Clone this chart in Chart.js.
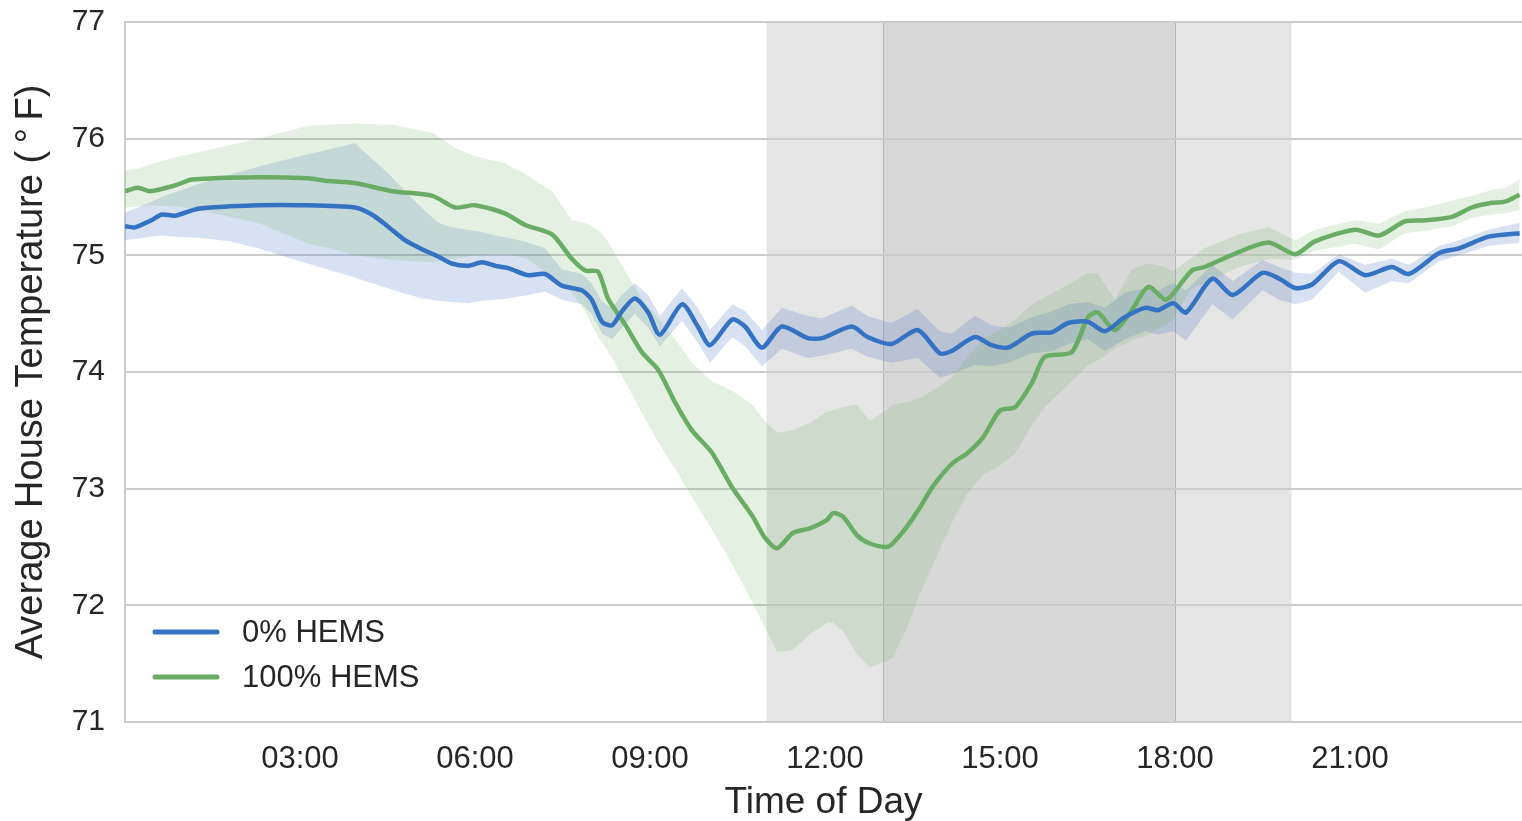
<!DOCTYPE html>
<html>
<head>
<meta charset="utf-8">
<title>Average House Temperature</title>
<script src="https://cdn.jsdelivr.net/npm/chart.js@4.4.1/dist/chart.umd.min.js"></script>
<style>
  html, body { margin: 0; padding: 0; background: #fff; }
  #wrap { position: relative; width: 1522px; height: 821px; }
</style>
</head>
<body>
<div id="wrap"><canvas id="tempChart"></canvas></div>
<script>
// hours of day (0-24) and temperatures (deg F)
var blueHours = [0.00, 0.17, 0.45, 0.63, 0.86, 1.25, 1.80, 2.28, 3.00, 3.94, 4.23, 4.50, 4.80, 5.10, 5.37, 5.60, 5.88,
  6.12, 6.35, 6.57, 6.91, 7.20, 7.49, 7.83, 8.00, 8.18, 8.35, 8.52, 8.74, 8.97, 9.17, 9.55, 9.82, 10.03, 10.41,
  10.63, 10.92, 11.26, 11.71, 11.95, 12.46, 12.73, 13.14, 13.59, 13.97, 14.17, 14.57, 14.86, 15.14, 15.55, 15.89,
  16.17, 16.51, 16.80, 17.14, 17.49, 17.71, 17.97, 18.19, 18.64, 18.99, 19.50, 19.79, 20.06, 20.35, 20.81, 21.26,
  21.72, 22.01, 22.53, 22.87, 23.38, 23.91];
var blueMean = [75.25, 75.24, 75.30, 75.35, 75.34, 75.40, 75.42, 75.43, 75.43, 75.41, 75.35, 75.25, 75.13, 75.05, 74.99, 74.93, 74.91,
  74.94, 74.91, 74.89, 74.83, 74.84, 74.74, 74.70, 74.62, 74.43, 74.40, 74.52, 74.63, 74.51, 74.32, 74.58, 74.39, 74.23, 74.45,
  74.39, 74.21, 74.39, 74.29, 74.29, 74.39, 74.30, 74.24, 74.36, 74.16, 74.18, 74.30, 74.23, 74.21, 74.33, 74.34,
  74.42, 74.43, 74.35, 74.47, 74.55, 74.53, 74.59, 74.51, 74.80, 74.66, 74.85, 74.80, 74.72, 74.75, 74.95, 74.83,
  74.90, 74.84, 75.02, 75.06, 75.16, 75.19];
var blueLow = [75.13, 75.14, 75.16, 75.17, 75.16, 75.15, 75.12, 75.06, 74.95, 74.81, 74.76, 74.72, 74.67, 74.63, 74.61, 74.60, 74.59,
  74.61, 74.62, 74.63, 74.66, 74.69, 74.62, 74.58, 74.50, 74.33, 74.28, 74.38, 74.50, 74.38, 74.22, 74.44, 74.25, 74.08, 74.30,
  74.22, 74.05, 74.20, 74.12, 74.14, 74.20, 74.13, 74.08, 74.12, 73.95, 73.98, 74.06, 74.05, 74.08, 74.16, 74.18,
  74.24, 74.28, 74.18, 74.28, 74.35, 74.32, 74.35, 74.27, 74.58, 74.45, 74.70, 74.62, 74.58, 74.62, 74.86, 74.68,
  74.78, 74.76, 74.95, 75.00, 75.08, 75.11];
var blueHigh = [75.37, 75.40, 75.46, 75.50, 75.54, 75.61, 75.69, 75.76, 75.85, 75.96, 75.83, 75.71, 75.55, 75.40, 75.28, 75.24, 75.22,
  75.20, 75.17, 75.15, 75.11, 75.06, 74.88, 74.84, 74.76, 74.60, 74.55, 74.66, 74.76, 74.66, 74.48, 74.72, 74.55, 74.36, 74.58,
  74.52, 74.36, 74.55, 74.48, 74.46, 74.57, 74.48, 74.42, 74.54, 74.35, 74.33, 74.48, 74.40, 74.38, 74.47, 74.52,
  74.58, 74.60, 74.55, 74.68, 74.72, 74.70, 74.76, 74.70, 74.92, 74.78, 74.96, 74.90, 74.85, 74.84, 75.01, 74.92,
  74.97, 74.92, 75.08, 75.13, 75.22, 75.28];

var greenHours = [0.00, 0.22, 0.43, 0.86, 1.15, 2.28, 3.14, 3.43, 3.94, 4.58, 5.27, 5.66, 6.00, 6.51, 6.86, 7.32, 7.66,
  7.89, 8.11, 8.28, 8.57, 8.86, 9.14, 9.43, 9.72, 10.06, 10.41, 10.75, 10.97, 11.18, 11.45, 11.74, 12.03, 12.14,
  12.31, 12.55, 12.77, 13.06, 13.16, 13.40, 13.63, 13.85, 14.19, 14.43, 14.71, 15.00, 15.26, 15.55, 15.77, 16.23,
  16.51, 16.68, 16.97, 17.26, 17.54, 17.83, 17.95, 18.29, 18.51, 19.10, 19.61, 20.06, 20.40, 21.09, 21.50, 21.94,
  22.29, 22.75, 23.09, 23.43, 23.66, 23.91];
var greenMean = [75.55, 75.58, 75.55, 75.60, 75.65, 75.67, 75.66, 75.64, 75.62, 75.55, 75.51, 75.41, 75.43, 75.36, 75.26, 75.18, 74.97,
  74.87, 74.86, 74.63, 74.41, 74.17, 74.02, 73.74, 73.50, 73.31, 73.01, 72.77, 72.58, 72.49, 72.62, 72.66, 72.73, 72.79,
  72.76, 72.60, 72.53, 72.50, 72.53, 72.67, 72.84, 73.02, 73.22, 73.30, 73.44, 73.67, 73.70, 73.91, 74.13, 74.17,
  74.47, 74.51, 74.36, 74.53, 74.73, 74.62, 74.66, 74.87, 74.90, 75.03, 75.11, 75.01, 75.12, 75.22, 75.17, 75.29,
  75.30, 75.33, 75.41, 75.45, 75.46, 75.52];
var greenLow = [75.41, 75.42, 75.43, 75.42, 75.40, 75.28, 75.10, 75.07, 75.00, 74.96, 74.94, 74.97, 75.00, 75.01, 74.98, 74.82, 74.68,
  74.52, 74.30, 74.18, 73.92, 73.65, 73.40, 73.17, 72.93, 72.65, 72.35, 72.03, 71.81, 71.60, 71.62, 71.75, 71.85, 71.85,
  71.78, 71.58, 71.47, 71.52, 71.55, 71.80, 72.10, 72.35, 72.72, 72.95, 73.12, 73.20, 73.30, 73.55, 73.70, 73.92,
  74.06, 74.10, 74.20, 74.27, 74.32, 74.40, 74.44, 74.72, 74.76, 74.90, 74.97, 74.96, 75.04, 75.10, 75.05, 75.19,
  75.21, 75.25, 75.32, 75.35, 75.36, 75.39];
var greenHigh = [75.73, 75.74, 75.78, 75.84, 75.87, 76.00, 76.11, 76.12, 76.13, 76.12, 76.05, 75.92, 75.85, 75.79, 75.70, 75.55, 75.30,
  75.28, 75.22, 75.12, 74.87, 74.63, 74.46, 74.28, 74.08, 73.92, 73.84, 73.72, 73.58, 73.48, 73.50, 73.56, 73.66, 73.67,
  73.70, 73.72, 73.58, 73.68, 73.72, 73.74, 73.78, 73.84, 73.96, 74.12, 74.28, 74.36, 74.45, 74.58, 74.64, 74.76,
  74.85, 74.84, 74.62, 74.88, 74.93, 74.90, 74.86, 74.98, 75.06, 75.18, 75.24, 75.13, 75.22, 75.30, 75.27, 75.38,
  75.41, 75.47, 75.51, 75.56, 75.58, 75.65];

var seriesNames = ["0% HEMS", "100% HEMS"];
var tickHours = [3, 6, 9, 12, 15, 18, 21];
var tickLabels = ["03:00", "06:00", "09:00", "12:00", "15:00", "18:00", "21:00"];
var peakWindow = [11, 20];
var corePeak = [13, 18];

var blueColor = "#3473c3";
var greenColor = "#69ad64";
var blueBand = "rgba(76, 120, 192, 0.22)";
var greenBand = "rgba(105, 170, 95, 0.18)";
var fam = "'Liberation Sans', Arial, sans-serif";

function points(xs, ys) {
    return xs.map(function (x, i) { return { x: x, y: ys[i] }; });
}

// grey peak-period shading, drawn under the grid and the data
var shadePlugin = {
    id: "shade",
    beforeDraw: function (chart) {
        var ctx = chart.ctx, xs = chart.scales.x, area = chart.chartArea;
        var h = area.bottom - area.top;
        var a = xs.getPixelForValue(peakWindow[0]), b = xs.getPixelForValue(peakWindow[1]);
        var c = xs.getPixelForValue(corePeak[0]), d = xs.getPixelForValue(corePeak[1]);
        ctx.save();
        ctx.fillStyle = "#e5e5e5";
        ctx.fillRect(a, area.top, b - a, h);
        ctx.fillStyle = "#d8d8d8";
        ctx.fillRect(c, area.top, d - c, h);
        ctx.strokeStyle = "#b4b4b4";
        ctx.lineWidth = 1;
        [c, d].forEach(function (px) {
            ctx.beginPath();
            ctx.moveTo(Math.round(px) + 0.5, area.top);
            ctx.lineTo(Math.round(px) + 0.5, area.bottom);
            ctx.stroke();
        });
        ctx.restore();
    }
};

// legend sits inside the plot, lower left
var legendPlugin = {
    id: "insideLegend",
    afterDatasetsDraw: function (chart) {
        var ctx = chart.ctx, area = chart.chartArea;
        var colors = [blueColor, greenColor];
        ctx.save();
        ctx.font = "31px " + fam;
        ctx.textBaseline = "middle";
        ctx.lineCap = "round";
        seriesNames.forEach(function (name, i) {
            var y = area.bottom - 90 + i * 45;
            ctx.strokeStyle = colors[i];
            ctx.lineWidth = 5;
            ctx.beginPath();
            ctx.moveTo(area.left + 30, y);
            ctx.lineTo(area.left + 92, y);
            ctx.stroke();
            ctx.fillStyle = "#262626";
            ctx.fillText(name, area.left + 117, y + 1);
        });
        ctx.restore();
    }
};

document.addEventListener("DOMContentLoaded", function () {
    var ctx = document.getElementById("tempChart");
    new Chart(ctx, {
        type: "line",
        data: {
            datasets: [{
                    label: "blue low",
                    data: points(blueHours, blueLow),
                    borderWidth: 0,
                    pointRadius: 0,
                    fill: false,
                    order: 5
                }, {
                    label: "blue high",
                    data: points(blueHours, blueHigh),
                    borderWidth: 0,
                    pointRadius: 0,
                    backgroundColor: blueBand,
                    fill: "-1",
                    order: 5
                }, {
                    label: "green low",
                    data: points(greenHours, greenLow),
                    borderWidth: 0,
                    pointRadius: 0,
                    fill: false,
                    order: 4
                }, {
                    label: "green high",
                    data: points(greenHours, greenHigh),
                    borderWidth: 0,
                    pointRadius: 0,
                    backgroundColor: greenBand,
                    fill: "-1",
                    order: 4
                }, {
                    label: seriesNames[1],
                    data: points(greenHours, greenMean),
                    borderColor: greenColor,
                    borderWidth: 4.5,
                    pointRadius: 0,
                    tension: 0.25,
                    fill: false,
                    order: 2
                }, {
                    label: seriesNames[0],
                    data: points(blueHours, blueMean),
                    borderColor: blueColor,
                    borderWidth: 4.5,
                    pointRadius: 0,
                    tension: 0.25,
                    fill: false,
                    order: 1
                }]
        },
        options: {
            responsive: true,
            maintainAspectRatio: false,
            animation: false,
            layout: { padding: { top: 22, right: 0, left: 0, bottom: 0 } },
            scales: {
                x: {
                    type: "linear",
                    min: 0,
                    max: 23.95,
                    afterBuildTicks: function (axis) {
                        axis.ticks = tickHours.map(function (v) { return { value: v }; });
                    },
                    afterFit: function (axis) { axis.height = 99; },
                    grid: { display: false },
                    border: { display: false },
                    ticks: {
                        color: "#262626",
                        font: { size: 31, family: fam },
                        padding: 11,
                        autoSkip: false,
                        maxRotation: 0,
                        callback: function (value) { return tickLabels[tickHours.indexOf(value)]; }
                    },
                    title: {
                        display: true,
                        text: "Time of Day",
                        color: "#262626",
                        font: { size: 37, family: fam, lineHeight: 1.0 },
                        padding: { top: 4, bottom: 0 }
                    }
                },
                y: {
                    min: 71,
                    max: 77,
                    afterFit: function (axis) {
                        axis.width = 125;
                        axis.paddingTop = 0;
                        axis.paddingBottom = 0;
                    },
                    ticks: {
                        stepSize: 1,
                        color: "#262626",
                        font: { size: 30, family: fam },
                        padding: 20
                    },
                    grid: { color: "#cccccc", lineWidth: 2, drawTicks: false },
                    border: { display: true, color: "#cccccc", width: 2 },
                    title: {
                        display: true,
                        text: "Average House Temperature (\u2009\u00b0\u2009F)",
                        color: "#262626",
                        font: { size: 38, family: fam, lineHeight: 1.0 },
                        padding: { top: 13, bottom: 0 }
                    }
                }
            },
            plugins: {
                legend: { display: false },
                tooltip: { enabled: false }
            }
        },
        plugins: [shadePlugin, legendPlugin]
    });
});
</script>
</body>
</html>
